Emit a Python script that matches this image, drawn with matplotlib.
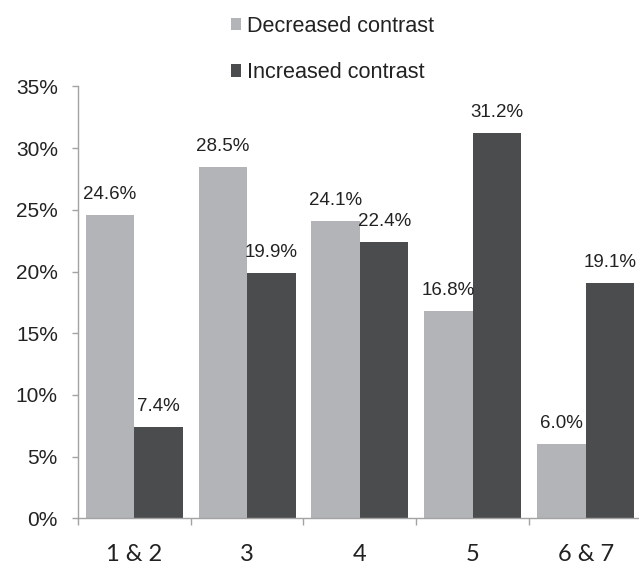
import numpy as np
import matplotlib.pyplot as plt
from matplotlib.ticker import FixedLocator

# Share of cases per group, in percent
groups = ['1 & 2', '3', '4', '5', '6 & 7']
decreased = [24.6, 28.5, 24.1, 16.8, 6.0]
increased = [7.4, 19.9, 22.4, 31.2, 19.1]
series_names = ['Decreased contrast', 'Increased contrast']
y_ticks = [0, 5, 10, 15, 20, 25, 30, 35]

light = '#b3b4b7'
dark = '#4b4c4e'
axis_col = '#a3a3a3'

plt.rcParams['font.family'] = ['Liberation Sans', 'DejaVu Sans']

fig = plt.figure(figsize=(6.39, 5.65), dpi=100)
ax = fig.add_axes([0.1216, 0.0827, 0.8834, 0.7643])

x = np.arange(len(groups))
w = 0.43
b1 = ax.bar(x - w / 2, decreased, w, color=light, label=series_names[0])
b2 = ax.bar(x + w / 2, increased, w, color=dark, label=series_names[1])

# value labels above each bar
for bars, vals in ((b1, decreased), (b2, increased)):
    for r, v in zip(bars, vals):
        ax.annotate(f'{v:.1f}%', (r.get_x() + r.get_width() / 2, v),
                    xytext=(0, 11.5), textcoords='offset points',
                    ha='center', va='baseline', fontsize=13.5, color='#222222')

ax.set_xlim(-0.5, len(groups) - 0.5)
ax.set_ylim(0, 35)

ax.set_yticks(y_ticks)
ax.set_yticklabels([f'{t}%' for t in y_ticks])
ax.tick_params(axis='y', length=4.3, width=1, color=axis_col, pad=10,
               labelsize=15, labelcolor='#222222')

# category names centred, tick marks at group boundaries
ax.set_xticks(x)
ax.set_xticklabels(groups, fontfamily=['Lato', 'DejaVu Sans'])
ax.tick_params(axis='x', which='major', length=0, pad=18.5, labelsize=17,
               labelcolor='#222222')
ax.xaxis.set_minor_locator(FixedLocator(np.arange(len(groups) + 1) - 0.5))
ax.tick_params(axis='x', which='minor', length=5, width=1, color=axis_col)

for s in ('top', 'right'):
    ax.spines[s].set_visible(False)
for s in ('left', 'bottom'):
    ax.spines[s].set_color(axis_col)
    ax.spines[s].set_linewidth(1)

fig.legend(handles=[b1, b2], loc='upper left', bbox_to_anchor=(0.361, 0.972),
           frameon=False, fontsize=15.6, borderpad=0, borderaxespad=0,
           handlelength=0.49, handleheight=0.49, handletextpad=0.26,
           labelspacing=1.17, labelcolor='#222222')

fig.savefig('out.png', dpi=100)
